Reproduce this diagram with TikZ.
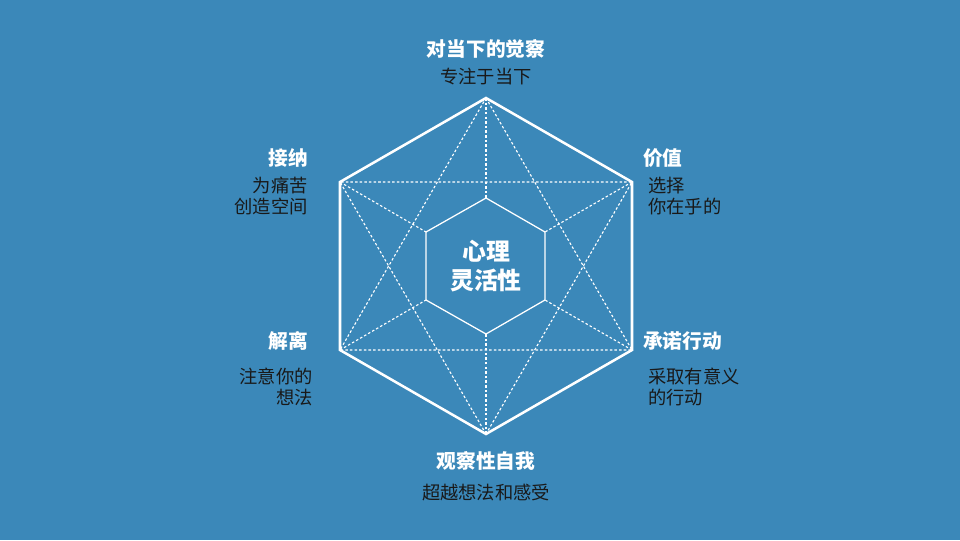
\documentclass[tikz,border=0pt]{standalone}
\usepackage{fontspec}
\setmainfont{Noto Sans CJK SC}
\usepackage{tikz}
\definecolor{bgblue}{RGB}{59,136,185}
\definecolor{textdark}{RGB}{25,25,25}

\begin{document}
\begin{tikzpicture}[x=0.025cm,y=-0.025cm,inner sep=0pt,
  outer/.style={draw=white,line width=1.8pt,line join=miter},
  inner/.style={draw=white,line width=0.9pt},
  guide/.style={draw=white,line width=0.8pt,dash pattern=on 1.8pt off 1.5pt},
  title/.style={white,font=\fontsize{14}{16}\selectfont\bfseries},
  sub/.style={textdark,font=\fontsize{13}{15.5}\selectfont,align=#1},
  sub/.default=center,
  center/.style={white,font=\fontsize{17}{21}\selectfont\bfseries,align=center}]
\fill[bgblue] (0,0) rectangle (960,540);
\useasboundingbox (0,0) rectangle (960,540);
% outer hexagon
\coordinate (Outer1) at (486,98);
\coordinate (Outer2) at (632,182);
\coordinate (Outer3) at (632,350);
\coordinate (Outer4) at (486,434);
\coordinate (Outer5) at (340,350);
\coordinate (Outer6) at (340,182);
% inner hexagon
\coordinate (Inner1) at (486,198);
\coordinate (Inner2) at (545,232);
\coordinate (Inner3) at (545,300);
\coordinate (Inner4) at (486,334);
\coordinate (Inner5) at (426,300);
\coordinate (Inner6) at (426,232);
% star
\draw[guide] (Outer1) -- (Outer3) -- (Outer5) -- cycle;
\draw[guide] (Outer4) -- (Outer6) -- (Outer2) -- cycle;
\foreach \i in {1,...,6}
  \draw[guide] (Outer\i) -- (Inner\i);
\draw[outer] (Outer1) -- (Outer2) -- (Outer3) -- (Outer4) -- (Outer5) -- (Outer6) -- cycle;
\draw[inner] (Inner1) -- (Inner2) -- (Inner3) -- (Inner4) -- (Inner5) -- (Inner6) -- cycle;
% labels
\node at (486,266) [center] (core) {心理\\灵活性};
\node at (486,49) [title] (present) {对当下的觉察};
\node at (486,77) [sub] (presentsub) {专注于当下};
\node at (643,158) [title,anchor=west] (values) {价值};
\node at (648,196) [sub=left,anchor=west] (valuessub) {选择\\你在乎的};
\node at (643,341) [title,anchor=west] (action) {承诺行动};
\node at (648,387) [sub=left,anchor=west] (actionsub) {采取有意义\\的行动};
\node at (486,461) [title] (self) {观察性自我};
\node at (486,493) [sub] (selfsub) {超越想法和感受};
\node at (308,341) [title,anchor=east] (defusion) {解离};
\node at (313,387) [sub=right,anchor=east] (defusionsub) {注意你的\\想法};
\node at (308,158) [title,anchor=east] (accept) {接纳};
\node at (308,196) [sub=right,anchor=east] (acceptsub) {为痛苦\\创造空间};
\end{tikzpicture}
\end{document}
